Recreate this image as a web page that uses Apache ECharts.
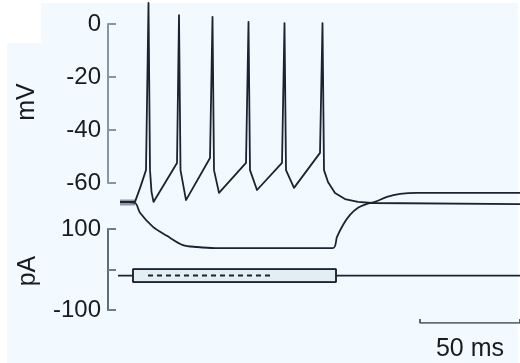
<!DOCTYPE html>
<html>
<head>
<meta charset="utf-8">
<style>
  html, body { margin: 0; padding: 0; background: #ffffff; }
  #chart { width: 520px; height: 363px; }
</style>
<script src="https://cdn.jsdelivr.net/npm/echarts@6/dist/echarts.min.js"></script>
</head>
<body>
<div id="chart"></div>
<script>
// Membrane voltage (mV) during a depolarizing current step: repetitive firing
const depolTime = [6, 13.5, 16, 19, 20.25, 21, 21.75, 22.75,
  34.5, 35.5, 36.25, 39,
  51, 52.25, 53, 55.5,
  69, 70.25, 71, 74.5,
  87, 88.25, 89, 93,
  106, 107.25, 108, 110, 113.5, 118.5, 125, 132, 206];
const depolMv = [-67.2, -67.2, -62.0, -55.2, 7.9, -55.2, -63.4, -67.2,
  -52.5, 3.3, -55.2, -66.5,
  -50.6, 2.6, -55.2, -63.8,
  -52.5, 0.7, -55.2, -62.7,
  -52.5, 0.3, -55.2, -61.9,
  -48.7, 0.3, -55.2, -59.7, -63.8, -66.1, -67.2, -67.6, -68.0];

// Membrane voltage (mV) during a hyperpolarizing current step, with rebound
const hyperTime = [6, 13.5, 16, 22.5, 29.5, 37.5, 44.5, 53.5, 112.5,
  114.5, 117.5, 121, 125, 129.5, 133.5, 139.5, 146, 154.5, 206];
const hyperMv = [-67.2, -67.6, -71.3, -76.6, -80.0, -83.5, -84.2, -84.6, -84.6,
  -80.4, -75.9, -72.1, -69.4, -67.9, -67.2, -65.3, -64.2, -63.8, -63.8];

// Pre-step baseline marker (mV)
const markerTime = [6, 13.5];
const markerMv = [-67.4, -67.4];

// Injected current (pA)
const holdCurrent = -15;
const stepUp = 1;
const stepDown = -31;
const stepOn = 12.5;
const stepOff = 114;
const traceStart = 5;
const traceEnd = 206;
const dashedSpan = [20, 83];

// Tick positions and the labels printed beside them
const mvTicks = [0, -20, -40, -60];
const paTicks = [100, 0, -100];
const paLabels = [100, -100];

// Time scale bar (ms)
const scaleBarMs = [156, 206];
const scaleBarLabel = '50 ms';

const traceColor = '#1d2231';
const textColor = '#181c22';
const font = 'Liberation Sans';

const toPairs = (xs, ys) => xs.map((x, i) => [x, ys[i]]);

const stepUpTrace = [[traceStart, holdCurrent], [stepOn, holdCurrent], [stepOn, stepUp],
  [stepOff, stepUp], [stepOff, holdCurrent], [traceEnd, holdCurrent]];
const stepDownTrace = [[stepOn, holdCurrent], [stepOn, stepDown], [stepOff, stepDown], [stepOff, holdCurrent]];

const xCommon = { type: 'value', min: 0, max: 206, show: false };
const plotLeft = 108, plotWidth = 412;

const chart = echarts.init(document.getElementById('chart'), null, { renderer: 'canvas' });

chart.setOption({
  animation: false,
  backgroundColor: '#f2faff',
  graphic: [
    { type: 'rect', shape: { x: 0, y: 0, width: 520, height: 3 }, style: { fill: '#ffffff' }, z: -1 },
    { type: 'rect', shape: { x: 0, y: 0, width: 7, height: 363 }, style: { fill: '#ffffff' }, z: -1 },
    { type: 'rect', shape: { x: 0, y: 0, width: 41, height: 43 }, style: { fill: '#ffffff' }, z: -1 },
    { type: 'rect', shape: { x: 518, y: 0, width: 2, height: 363 }, style: { fill: '#ffffff' }, z: -1 },
    { type: 'text', x: 27, y: 102, rotation: Math.PI / 2,
      style: { text: 'mV', fill: textColor, font: '25px "' + font + '"', align: 'center', verticalAlign: 'middle' } },
    { type: 'text', x: 28, y: 271, rotation: Math.PI / 2,
      style: { text: 'pA', fill: textColor, font: '25px "' + font + '"', align: 'center', verticalAlign: 'middle' } },
    { type: 'text', x: 470, y: 349,
      style: { text: scaleBarLabel, fill: textColor, font: '25px "' + font + '"', align: 'center', verticalAlign: 'middle' } }
  ],
  grid: [
    { left: plotLeft, top: 24, width: plotWidth, height: 159 },      // mV axis
    { left: plotLeft, top: 0, width: plotWidth, height: 262.35 },    // voltage traces
    { left: plotLeft, top: 229, width: plotWidth, height: 81 },      // current axis + trace
    { left: plotLeft, top: 319, width: plotWidth, height: 4 }        // scale bar
  ],
  xAxis: [
    Object.assign({ gridIndex: 0 }, xCommon),
    Object.assign({ gridIndex: 1 }, xCommon),
    Object.assign({ gridIndex: 2 }, xCommon),
    Object.assign({ gridIndex: 3 }, xCommon)
  ],
  yAxis: [
    {
      gridIndex: 0, type: 'value',
      min: Math.min(...mvTicks), max: Math.max(...mvTicks), interval: mvTicks[0] - mvTicks[1],
      axisLine: { show: true, lineStyle: { color: '#8796a6', width: 2 } },
      axisTick: { show: true, inside: true, length: 8, lineStyle: { color: '#8796a6', width: 2 } },
      axisLabel: { margin: 7, color: textColor, fontSize: 24, fontFamily: font },
      splitLine: { show: false }
    },
    { gridIndex: 1, type: 'value', min: -90, max: 9, show: false },
    {
      gridIndex: 2, type: 'value',
      min: Math.min(...paTicks), max: Math.max(...paTicks), interval: paTicks[0] - paTicks[1],
      axisLine: { show: true, lineStyle: { color: '#5f6c7a', width: 2 } },
      axisTick: { show: true, inside: true, length: 8, lineStyle: { color: '#6f7c8a', width: 2 } },
      axisLabel: {
        margin: 7, color: textColor, fontSize: 24, fontFamily: font,
        formatter: v => (paLabels.includes(v) ? String(v) : '')
      },
      splitLine: { show: false }
    },
    { gridIndex: 3, type: 'value', min: 0, max: 1, show: false }
  ],
  series: [
    {
      name: 'marker', type: 'line', xAxisIndex: 1, yAxisIndex: 1,
      data: toPairs(markerTime, markerMv), symbol: 'none',
      lineStyle: { color: '#8c9aa8', width: 6 }, z: 1
    },
    {
      name: 'hyperpolarized', type: 'line', xAxisIndex: 1, yAxisIndex: 1,
      data: toPairs(hyperTime, hyperMv), symbol: 'none', smooth: 0.3,
      lineStyle: { color: traceColor, width: 1.8 }, z: 2
    },
    {
      name: 'depolarized', type: 'line', xAxisIndex: 1, yAxisIndex: 1,
      data: toPairs(depolTime, depolMv), symbol: 'none',
      lineStyle: { color: traceColor, width: 1.8, join: 'round' }, z: 3
    },
    {
      name: 'I depol', type: 'line', xAxisIndex: 2, yAxisIndex: 2,
      data: stepUpTrace, symbol: 'none',
      lineStyle: { color: traceColor, width: 1.8 }, z: 3,
      markArea: {
        silent: true,
        itemStyle: { color: '#e2edf4', borderColor: '#3a4352', borderWidth: 1 },
        data: [[{ coord: [stepOn, stepUp] }, { coord: [stepOff, stepDown] }]]
      }
    },
    {
      name: 'I hyper', type: 'line', xAxisIndex: 2, yAxisIndex: 2,
      data: stepDownTrace, symbol: 'none',
      lineStyle: { color: traceColor, width: 1.8 }, z: 3
    },
    {
      name: 'I baseline', type: 'line', xAxisIndex: 2, yAxisIndex: 2,
      data: [[dashedSpan[0], holdCurrent], [dashedSpan[1], holdCurrent]], symbol: 'none',
      lineStyle: { color: traceColor, width: 2, type: [5, 4] }, z: 4
    },
    {
      name: 'scale bar', type: 'line', xAxisIndex: 3, yAxisIndex: 3,
      data: [[scaleBarMs[0], 1], [scaleBarMs[0], 0], [scaleBarMs[1], 0], [scaleBarMs[1], 1]],
      symbol: 'none', lineStyle: { color: '#3a4048', width: 1.6 }
    }
  ]
});
</script>
</body>
</html>
